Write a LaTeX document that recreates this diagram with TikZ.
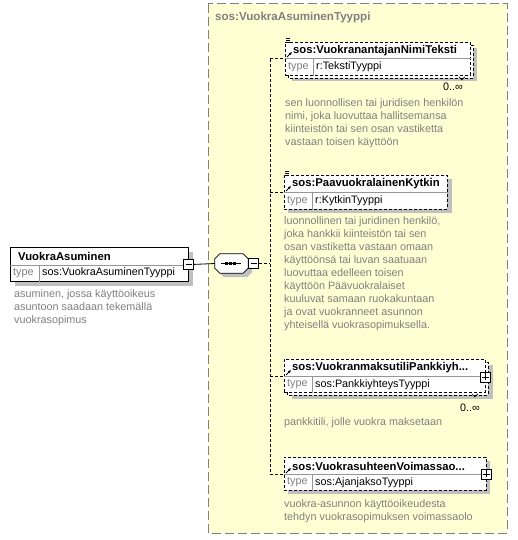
\documentclass[tikz,border=0pt]{standalone}
\usepackage{fontspec}
\setmainfont{Liberation Sans}
\usetikzlibrary{calc,arrows.meta}
\definecolor{bgyellow}{RGB}{255,255,212}
\definecolor{framegray}{RGB}{128,128,128}
\definecolor{descgray}{RGB}{128,128,128}
\definecolor{shadowgray}{RGB}{192,192,192}
\definecolor{linegray}{RGB}{150,150,150}
\tikzset{
  regfont/.style={font=\fontsize{10.8}{13}\selectfont},
  boldfont/.style={font=\fontsize{11.3}{13}\selectfont\bfseries},
  titlefont/.style={font=\fontsize{11.6}{13}\selectfont\bfseries},
  elemsolid/.style={draw=black, fill=white, line width=0.8pt, inner sep=0, anchor=north west},
  elemdash/.style={draw=black, fill=white, line width=0.8pt, dash pattern=on 3pt off 2pt, inner sep=0, anchor=north west},
  shadowbox/.style={fill=shadowgray, draw=none},
  divline/.style={draw=linegray, line width=0.8pt},
  namelbl/.style={boldfont, inner sep=0, anchor=west},
  typelbl/.style={regfont, text=descgray, inner sep=0, anchor=west},
  typeval/.style={regfont, inner sep=0, anchor=west},
  desc/.style={regfont, text=descgray, inner sep=0, anchor=north west, align=left},
  occ/.style={regfont, inner sep=0, anchor=east},
  pmbox/.style={draw=black, fill=white, line width=0.8pt, minimum width=10pt, minimum height=10pt, inner sep=0},
  conn/.style={draw=black, line width=0.8pt, dash pattern=on 3pt off 2pt},
  solidconn/.style={draw=black, line width=0.8pt},
  refarrow/.style={-{Latex[length=3pt,width=3pt]}, line width=0.9pt},
}
\newcommand{\pminus}[1]{\draw[line width=0.8pt] ($(#1)+(-3,0)$) -- ($(#1)+(3,0)$);}
\newcommand{\pplus}[1]{\draw[line width=0.8pt] ($(#1)+(-3.5,0)$) -- ($(#1)+(3.5,0)$); \draw[line width=0.8pt] ($(#1)+(0,-3.5)$) -- ($(#1)+(0,3.5)$);}
\begin{document}
\begin{tikzpicture}[x=1pt,y=-1pt]
\useasboundingbox (0,0) rectangle (517,540);
\fill[white] (0,0) rectangle (517,540);

% complex type frame
\draw[fill=bgyellow, draw=framegray, line width=1pt, dash pattern=on 9pt off 4pt] (208,4) rectangle (507,533);
\node[titlefont, text=framegray, inner sep=0, anchor=west] (title) at (215,18) {sos:VuokraAsuminenTyyppi};

% main element
\fill[shadowgray] (15,252) rectangle (193,286);
\node[elemsolid, minimum width=178pt, minimum height=34pt] (main) at (10,247) {};
\draw[divline] ($(main.north west)+(0,18)$) -- ($(main.north east)+(0,18)$);
\draw[divline] ($(main.north west)+(29,18)$) -- ($(main.south west)+(29,0)$);
\node[namelbl] (mainname) at ($(main.north west)+(8,9)$) {VuokraAsuminen};
\node[typelbl] (maintype) at ($(main.north west)+(3,26)$) {type};
\node[typeval] (mainval) at ($(main.north west)+(32,26)$) {sos:VuokraAsuminenTyyppi};
\node[pmbox] (m1) at (main.east) {};
\pminus{m1}
\node[desc] (maindesc) at (14,289) {asuminen, jossa käyttöoikeus\\asuntoon saadaan tekemällä\\vuokrasopimus};

% sequence compositor
\node[inner sep=0, minimum width=33pt, minimum height=19pt] (seq) at (231.5,263.5) {};
\fill[shadowgray] ($(seq.north west)+(4+5,4)$) -- ($(seq.north east)+(4-5,4)$) -- ($(seq.north east)+(4,4+5)$) -- ($(seq.south east)+(4,4-5)$) -- ($(seq.south east)+(4-5,4)$) -- ($(seq.south west)+(4+5,4)$) -- ($(seq.south west)+(4,4-5)$) -- ($(seq.north west)+(4,4+5)$) -- cycle;
\draw[fill=white, line width=0.8pt] ($(seq.north west)+(5,0)$) -- ($(seq.north east)+(-5,0)$) -- ($(seq.north east)+(0,5)$) -- ($(seq.south east)+(0,-5)$) -- ($(seq.south east)+(-5,0)$) -- ($(seq.south west)+(5,0)$) -- ($(seq.south west)+(0,-5)$) -- ($(seq.north west)+(0,5)$) -- cycle;
\draw[line width=0.8pt] ($(seq.center)+(-11,0)$) -- ($(seq.center)+(9,0)$);
\foreach \dx in {-5,-1,3} \fill ($(seq.center)+(\dx-1.5,-1.5)$) rectangle ++(3,3);
\node[pmbox, anchor=west] (m2) at (seq.east) {};
\pminus{m2}

\draw[solidconn] (m1.east) -- (seq.west);
\coordinate (bus) at (270,263.5);

% child 1 (multiple)
\fill[shadowgray] (292,48) rectangle (477,81);
\draw[elemdash] (288,45) rectangle (473,78);
\node[elemdash, minimum width=185pt, minimum height=33pt] (c1) at (285,42) {};
\draw[divline] ($(c1.north west)+(0,16)$) -- ($(c1.north east)+(0,16)$);
\draw[divline] ($(c1.north west)+(28,16)$) -- ($(c1.south west)+(28,0)$);
\node[namelbl] (c1name) at ($(c1.north west)+(8,8.5)$) {sos:VuokranantajanNimiTeksti};
\node[typelbl] (c1type) at ($(c1.north west)+(3,25)$) {type};
\node[typeval] (c1val) at ($(c1.north west)+(31,25)$) {r:TekstiTyyppi};
\foreach \dy in {-4,-2,0} \draw[line width=0.7pt] ($(c1.north west)+(1,\dy)$) -- ++(4,0);
\draw[refarrow] ($(c1.north west)+(2,15)$) -- ++(5,-5);
\draw[line width=0.7pt] ($(c1.south east)+(-12,1)$) -- ++(3,3) -- ++(3,-3);
\node[occ] (c1occ) at (463,87) {0..∞};
\node[desc] (c1desc) at (285,98.5) {sen luonnollisen tai juridisen henkilön\\nimi, joka luovuttaa hallitsemansa\\kiinteistön tai sen osan vastiketta\\vastaan toisen käyttöön};

% child 2
\fill[shadowgray] (288,179) rectangle (452,213);
\node[elemdash, minimum width=163pt, minimum height=34pt] (c2) at (284,175) {};
\draw[divline] ($(c2.north west)+(0,17)$) -- ($(c2.north east)+(0,17)$);
\draw[divline] ($(c2.north west)+(28,17)$) -- ($(c2.south west)+(28,0)$);
\node[namelbl] (c2name) at ($(c2.north west)+(8,9)$) {sos:PaavuokralainenKytkin};
\node[typelbl] (c2type) at ($(c2.north west)+(3,26)$) {type};
\node[typeval] (c2val) at ($(c2.north west)+(31,26)$) {r:KytkinTyyppi};
\foreach \dy in {-4,-2,0} \draw[line width=0.7pt] ($(c2.north west)+(1,\dy)$) -- ++(4,0);
\draw[refarrow] ($(c2.north west)+(2,16)$) -- ++(5,-5);
\node[desc] (c2desc) at (284,216.5) {luonnollinen tai juridinen henkilö,\\joka hankkii kiinteistön tai sen\\osan vastiketta vastaan omaan\\käyttöönsä tai luvan saatuaan\\luovuttaa edelleen toisen\\käyttöön Päävuokralaiset\\kuuluvat samaan ruokakuntaan\\ja ovat vuokranneet asunnon\\yhteisellä vuokrasopimuksella.};

% child 3 (multiple)
\fill[shadowgray] (292,365) rectangle (493,399);
\draw[elemdash] (287,362) rectangle (488,395);
\node[elemdash, minimum width=201pt, minimum height=33pt] (c3) at (284,359) {};
\draw[divline] ($(c3.north west)+(0,17)$) -- ($(c3.north east)+(0,17)$);
\draw[divline] ($(c3.north west)+(28,17)$) -- ($(c3.south west)+(28,0)$);
\node[namelbl] (c3name) at ($(c3.north west)+(8,9)$) {sos:VuokranmaksutiliPankkiyh...};
\node[typelbl] (c3type) at ($(c3.north west)+(3,25.5)$) {type};
\node[typeval] (c3val) at ($(c3.north west)+(31,25.5)$) {sos:PankkiyhteysTyyppi};
\draw[refarrow] ($(c3.north west)+(2,16)$) -- ++(5,-5);
\draw[line width=0.7pt] ($(c3.south east)+(-14,1)$) -- ++(3,3) -- ++(3,-3);
\node[pmbox] (p3) at ($(c3.east)+(0,1)$) {};
\pplus{p3}
\node[occ] (c3occ) at (480,408) {0..∞};
\node[desc] (c3desc) at (284,417.5) {pankkitili, jolle vuokra maksetaan};

% child 4
\fill[shadowgray] (288,461) rectangle (490,494);
\node[elemdash, minimum width=202pt, minimum height=33pt] (c4) at (284,457) {};
\draw[divline] ($(c4.north west)+(0,17)$) -- ($(c4.north east)+(0,17)$);
\draw[divline] ($(c4.north west)+(28,17)$) -- ($(c4.south west)+(28,0)$);
\node[namelbl] (c4name) at ($(c4.north west)+(8,9)$) {sos:VuokrasuhteenVoimassao...};
\node[typelbl] (c4type) at ($(c4.north west)+(3,25.5)$) {type};
\node[typeval] (c4val) at ($(c4.north west)+(31,25.5)$) {sos:AjanjaksoTyyppi};
\draw[refarrow] ($(c4.north west)+(2,16)$) -- ++(5,-5);
\node[pmbox] (p4) at (c4.east) {};
\pplus{p4}
\node[desc] (c4desc) at (284,499.5) {vuokra-asunnon käyttöoikeudesta\\tehdyn vuokrasopimuksen voimassaolo};

% connectors
\draw[conn] (m2.east) -- (bus);
\draw[conn] (bus |- c1.west) -- (bus |- c4.west);
\draw[conn] (bus |- c1.west) -- (c1.west);
\draw[conn] (bus |- c2.west) -- (c2.west);
\draw[conn] (bus |- c3.west) -- (c3.west);
\draw[conn] (bus |- c4.west) -- (c4.west);
\end{tikzpicture}
\end{document}
